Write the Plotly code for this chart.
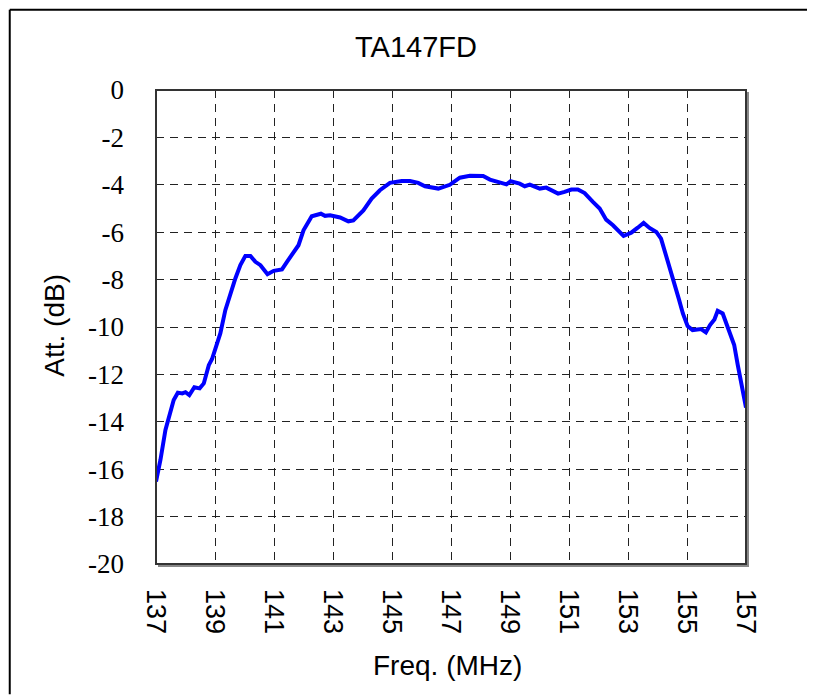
import plotly.graph_objects as go

freq = [137.00, 137.15, 137.32, 137.43, 137.60, 137.74, 137.89, 138.00, 138.13, 138.30,
        138.48, 138.62, 138.79, 138.90, 139.07, 139.18, 139.35, 139.52, 139.69, 139.86,
        140.03, 140.20, 140.37, 140.54, 140.78, 140.99, 141.27, 141.44, 141.66, 141.83,
        142.00, 142.28, 142.59, 142.73, 142.90, 143.24, 143.52, 143.69, 144.03, 144.31,
        144.59, 144.93, 145.33, 145.61, 145.89, 146.12, 146.57, 146.96, 147.30, 147.64,
        148.09, 148.32, 148.88, 149.02, 149.33, 149.50, 149.67, 150.01, 150.23, 150.63,
        150.85, 151.08, 151.30, 151.53, 151.81, 152.04, 152.26, 152.49, 152.85, 153.11,
        153.33, 153.53, 153.73, 153.96, 154.12, 154.29, 154.46, 154.58, 154.72, 154.86,
        155.02, 155.19, 155.48, 155.64, 155.78, 155.93, 156.04, 156.21, 156.38, 156.60,
        156.72, 156.83, 157.00]
att = [-16.52, -15.61, -14.34, -13.78, -13.08, -12.77, -12.80, -12.75, -12.87, -12.54,
       -12.59, -12.38, -11.61, -11.35, -10.69, -10.27, -9.29, -8.59, -7.95, -7.39,
       -7.00, -7.00, -7.25, -7.39, -7.77, -7.63, -7.57, -7.25, -6.83, -6.55,
       -5.92, -5.33, -5.22, -5.31, -5.29, -5.38, -5.54, -5.50, -5.08, -4.58,
       -4.23, -3.92, -3.84, -3.84, -3.92, -4.06, -4.16, -4.00, -3.70, -3.62,
       -3.63, -3.78, -3.98, -3.85, -3.95, -4.06, -3.99, -4.16, -4.12, -4.37,
       -4.30, -4.20, -4.20, -4.35, -4.72, -5.00, -5.47, -5.71, -6.16, -6.02,
       -5.81, -5.61, -5.82, -5.99, -6.27, -6.97, -7.60, -8.24, -8.80, -9.43,
       -9.96, -10.13, -10.09, -10.23, -9.92, -9.68, -9.32, -9.43, -9.99, -10.76,
       -11.60, -12.24, -13.40]

x_ticks = list(range(137, 158, 2))
y_ticks = list(range(-20, 1, 2))

title_text = "TA147FD"
x_title = "Freq. (MHz)"
y_title = "Att. (dB)"

fig = go.Figure()
fig.add_trace(go.Scatter(x=freq, y=att, mode="lines",
                         line=dict(color="#0000FF", width=4), showlegend=False))

# page body has an 8px margin; work in screen pixels and convert
OFF = 8
W, H = 807, 687
L, T = 147.5, 81.5
pw, ph = 591, 475
R = W - L - pw
B = H - T - ph

def px_x(p):
    return (p - OFF - L) / pw

def px_y(p):
    return (OFF + T + ph - p) / ph

fig.update_layout(
    width=W, height=H,
    margin=dict(l=L, r=R, t=T, b=B, pad=0),
    paper_bgcolor="white", plot_bgcolor="white",
    xaxis=dict(range=[137, 157], tickvals=x_ticks, ticktext=[str(v) for v in x_ticks],
               tickangle=90, showgrid=True, gridcolor="#222", griddash="8px,6px", gridwidth=1,
               showline=False, zeroline=False, ticks="", ticklabelstandoff=24,
               tickfont=dict(family="Liberation Sans, Arial", size=27, color="black")),
    yaxis=dict(range=[-20, 0], tickvals=y_ticks, ticktext=[str(v) for v in y_ticks],
               showgrid=True, gridcolor="#222", griddash="8px,6px", gridwidth=1,
               showline=False, zeroline=False, ticks="", ticklabelstandoff=31,
               tickfont=dict(family="Liberation Serif, Times New Roman", size=27, color="black")),
    annotations=[
        dict(text=title_text, xref="paper", yref="paper", x=px_x(416), y=px_y(46),
             xanchor="center", yanchor="middle", showarrow=False,
             font=dict(family="Liberation Sans, Arial", size=29, color="black")),
        dict(text=x_title, xref="paper", yref="paper", x=px_x(447), y=px_y(666),
             xanchor="center", yanchor="middle", showarrow=False,
             font=dict(family="Liberation Sans, Arial", size=28, color="black")),
        dict(text=y_title, xref="paper", yref="paper", x=px_x(53), y=px_y(325),
             xanchor="center", yanchor="middle", showarrow=False, textangle=-90,
             font=dict(family="Liberation Sans, Arial", size=28, color="black")),
    ],
    shapes=[
        # outer figure border (top and left)
        dict(type="line", xref="paper", yref="paper", x0=px_x(9), x1=px_x(815),
             y0=px_y(9), y1=px_y(9), line=dict(color="black", width=2)),
        dict(type="line", xref="paper", yref="paper", x0=px_x(9), x1=px_x(9),
             y0=px_y(9), y1=px_y(695), line=dict(color="black", width=2)),
        # plot-area shadow (right and bottom)
        dict(type="line", xref="paper", yref="paper", x0=px_x(OFF + L + pw + 1.5), x1=px_x(OFF + L + pw + 1.5),
             y0=px_y(OFF + T + 2), y1=px_y(OFF + T + ph + 3), line=dict(color="#888", width=3)),
        dict(type="line", xref="paper", yref="paper", x0=px_x(OFF + L + 2), x1=px_x(OFF + L + pw + 3),
             y0=px_y(OFF + T + ph + 1.5), y1=px_y(OFF + T + ph + 1.5), line=dict(color="#888", width=3)),
        # plot-area frame
        dict(type="rect", xref="paper", yref="paper", x0=0, x1=1, y0=0, y1=1,
             line=dict(color="#333", width=2)),
    ],
)

fig.write_html("out.html")
